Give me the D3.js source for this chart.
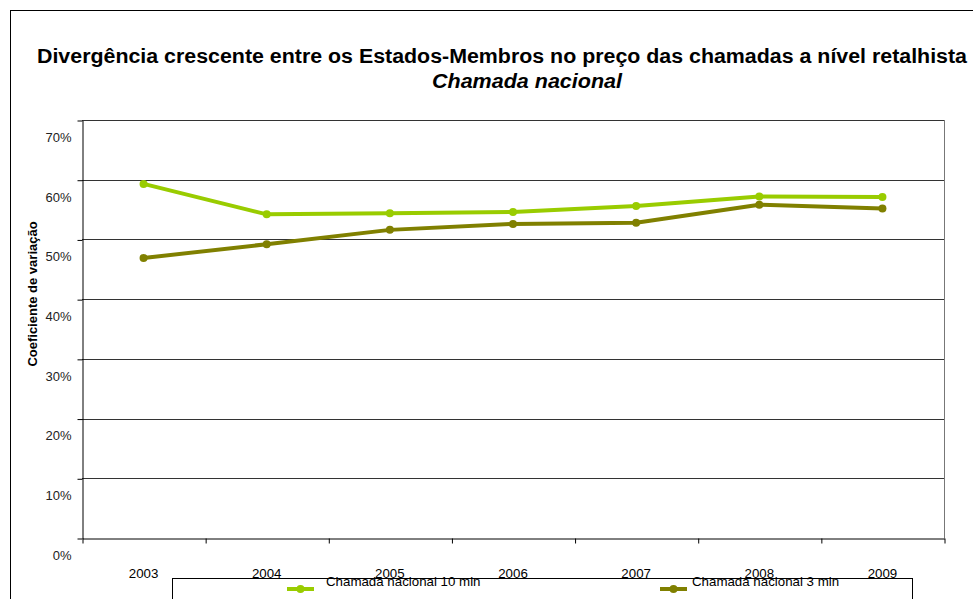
<!DOCTYPE html>
<html>
<head>
<meta charset="utf-8">
<script src="https://cdn.jsdelivr.net/npm/d3@7"></script>
<style>
  body { margin: 0; background: #fff; }
  svg { display: block; }
  svg text { font-family: "Liberation Sans", Arial, sans-serif; }
</style>
</head>
<body>
<div id="chart"></div>
<script>
// chart data
const years = ["2003", "2004", "2005", "2006", "2007", "2008", "2009"];
const call10min = [59.3, 54.2, 54.4, 54.6, 55.6, 57.2, 57.1];
const call3min = [46.9, 49.2, 51.6, 52.6, 52.8, 55.8, 55.2];
const yTicks = [0, 10, 20, 30, 40, 50, 60, 70];
const seriesNames = ["Chamada nacional 10 min", "Chamada nacional 3 min"];
const seriesColors = ["#99cc00", "#808000"];

const width = 973;
const height = 599;
const marginTop = 120;
const marginRight = 29;
const marginBottom = 61;
const marginLeft = 82;

const svg = d3.select("#chart")
    .append("svg")
    .attr("width", width)
    .attr("height", height);

// outer frame
svg.append("rect")
    .attr("x", 10.5)
    .attr("y", 10.5)
    .attr("width", 1000)
    .attr("height", 1000)
    .attr("fill", "none")
    .attr("stroke", "#000");

// titles (the original's title font runs a little wide)
svg.append("text")
    .attr("x", 502)
    .attr("y", 63)
    .attr("text-anchor", "middle")
    .attr("textLength", 930)
    .attr("lengthAdjust", "spacingAndGlyphs")
    .style("font-size", "20px")
    .style("font-weight", "bold")
    .text("Divergência crescente entre os Estados-Membros no preço das chamadas a nível retalhista");

svg.append("text")
    .attr("x", 527)
    .attr("y", 88)
    .attr("text-anchor", "middle")
    .attr("textLength", 190)
    .attr("lengthAdjust", "spacingAndGlyphs")
    .style("font-size", "20px")
    .style("font-weight", "bold")
    .style("font-style", "italic")
    .text("Chamada nacional");

const x = d3.scaleBand()
    .domain(years)
    .range([marginLeft, width - marginRight]);

const y = d3.scaleLinear()
    .domain([0, 70])
    .range([height - marginBottom, marginTop]);

// gridlines
svg.append("g")
    .selectAll("line")
    .data(yTicks.slice(1))
    .join("line")
    .attr("x1", marginLeft)
    .attr("x2", width - marginRight)
    .attr("y1", d => Math.round(y(d)) + 0.5)
    .attr("y2", d => Math.round(y(d)) + 0.5)
    .attr("stroke", "#333")
    .attr("stroke-width", 1);

// right edge of plot area
svg.append("line")
    .attr("x1", width - marginRight + 0.5)
    .attr("x2", width - marginRight + 0.5)
    .attr("y1", marginTop)
    .attr("y2", height - marginBottom)
    .attr("stroke", "#777");

// y axis, labels hang below their ticks like in the original
const yAxis = svg.append("g")
    .attr("transform", `translate(${marginLeft + 0.5},0.5)`)
    .call(d3.axisLeft(y).tickValues(yTicks).tickFormat(d => d + "%").tickSize(5).tickSizeOuter(0));
yAxis.select(".domain").attr("stroke", "#000");
yAxis.selectAll("text")
    .attr("x", -11)
    .attr("dy", "1.6em")
    .attr("fill", "#222")
    .style("font-size", "13px");

// x axis: ticks at category boundaries
const xEdge = d3.scaleLinear()
    .domain([0, years.length])
    .range([marginLeft, width - marginRight]);
const xAxis = svg.append("g")
    .attr("transform", `translate(0.5,${height - marginBottom + 0.5})`)
    .call(d3.axisBottom(xEdge).ticks(years.length).tickFormat("").tickSize(5).tickSizeOuter(0));
xAxis.select(".domain").attr("stroke", "#000");

// y axis title
svg.append("text")
    .attr("transform", "translate(37,294) rotate(-90)")
    .attr("text-anchor", "middle")
    .style("font-size", "13px")
    .style("font-weight", "bold")
    .text("Coeficiente de variação");

// lines
const series = [call10min, call3min];
const line = d3.line()
    .x((d, i) => x(years[i]) + x.bandwidth() / 2)
    .y(d => y(d));

series.forEach((values, s) => {
    svg.append("path")
        .datum(values)
        .attr("fill", "none")
        .attr("stroke", seriesColors[s])
        .attr("stroke-width", 4)
        .attr("stroke-linejoin", "round")
        .attr("d", line);

    svg.append("g")
        .selectAll("circle")
        .data(values)
        .join("circle")
        .attr("cx", (d, i) => x(years[i]) + x.bandwidth() / 2)
        .attr("cy", d => y(d))
        .attr("r", 4)
        .attr("fill", seriesColors[s]);
});

// legend
svg.append("rect")
    .attr("x", 172.5)
    .attr("y", 578.5)
    .attr("width", 740)
    .attr("height", 60)
    .attr("fill", "#fff")
    .attr("stroke", "#000");

const legendX = [287, 660];
const legendTextX = [39, 32];
seriesNames.forEach((name, s) => {
    const g = svg.append("g").attr("transform", `translate(${legendX[s]},589)`);
    g.append("line")
        .attr("x1", 0)
        .attr("x2", 27)
        .attr("stroke", seriesColors[s])
        .attr("stroke-width", 4);
    g.append("circle")
        .attr("cx", 13.5)
        .attr("r", 4)
        .attr("fill", seriesColors[s]);
    g.append("text")
        .attr("x", legendTextX[s])
        .attr("y", -3)
        .style("font-size", "13.3px")
        .text(name);
});

// x labels, drawn last: in the original they sit over the legend frame
svg.append("g")
    .attr("transform", `translate(0,${height - marginBottom})`)
    .call(d3.axisBottom(x).tickSize(0).tickPadding(0))
    .call(g => g.select(".domain").remove())
    .selectAll("text")
    .attr("y", 39.5)
    .attr("dy", 0)
    .attr("fill", "#000")
    .style("font-size", "13.3px");
</script>
</body>
</html>
